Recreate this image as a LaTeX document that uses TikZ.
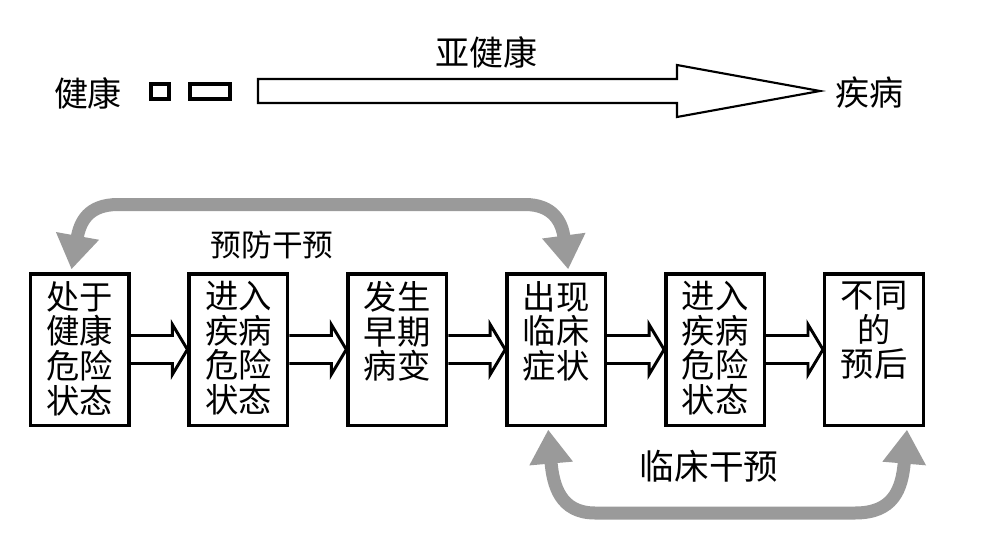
\documentclass[tikz,border=0pt]{standalone}
\usepackage{fontspec}
\newfontfamily\cjk{Noto Sans CJK SC}
\usetikzlibrary{arrows.meta}
\definecolor{arrowgray}{RGB}{154,154,154}
\begin{document}
\begin{tikzpicture}[x=0.75pt,y=-0.75pt,
  stagebox/.style={draw, line width=2.6pt, minimum width=73.9pt, minimum height=113.6pt, inner sep=0pt},
  boxtext/.style={anchor=north, inner sep=0pt, align=center, font=\cjk\fontsize{25pt}{26pt}\selectfont},
  toplabel/.style={inner sep=0pt, font=\cjk\fontsize{25.5pt}{27pt}\selectfont},
  blockarrow/.style={draw, line width=2.2pt, line join=miter},
  feedback/.style={draw=arrowgray, line width=9.75pt,
    {Triangle[length=25.5pt,width=31pt]}-{Triangle[length=25.5pt,width=31pt]}}
]
\useasboundingbox[fill=white] (0,0) rectangle (1001,536);

% top line
\node[toplabel] (healthy) at (88,93) {健康};
\node[toplabel] (disease) at (869,93) {疾病};
\node[toplabel] (subhealth) at (486,52) {亚健康};
\draw[line width=3pt] (151,84) rectangle (169,99);
\draw[line width=3pt] (190,84) rectangle (230,99);
\draw[line width=1.6pt, line join=miter] (258,79) -- (677,79) -- (677,65) -- (820,91) -- (677,117) -- (677,103) -- (258,103) -- cycle;

% stage boxes
\foreach \i/\x in {1/79.5,2/238.4,3/397.3,4/556.2,5/715.1,6/874}{
  \node[stagebox] (b\i) at (\x,349.5) {};
}
\node[boxtext] (t1) at (79.5,281) {处于\\健康\\危险\\状态};
\node[boxtext] (t2) at (238.4,281) {进入\\疾病\\危险\\状态};
\node[boxtext] (t3) at (397.3,281) {发生\\早期\\病变};
\node[boxtext] (t4) at (556.2,281) {出现\\临床\\症状};
\node[boxtext] (t5) at (715.1,281) {进入\\疾病\\危险\\状态};
\node[boxtext] (t6) at (874,281) {不同\\的\\预后};

% block arrows
\foreach \a/\b in {1/2,2/3,3/4,4/5,5/6}{
  \draw[blockarrow] ([yshift=10.5pt]b\a.east) -- ([xshift=-11.25pt,yshift=10.5pt]b\b.west)
    -- ([xshift=-11.25pt,yshift=18.75pt]b\b.west) -- (b\b.west)
    -- ([xshift=-11.25pt,yshift=-18.75pt]b\b.west) -- ([xshift=-11.25pt,yshift=-10.5pt]b\b.west)
    -- ([yshift=-10.5pt]b\a.east);
}

% feedback arrows
\draw[feedback] ([xshift=-6pt,yshift=2pt]b1.north) .. controls (80,222) and (88,204.5) .. (118,204.5)
  -- (525,204.5) .. controls (553,204.5) and (562,222) .. ([xshift=9pt,yshift=2pt]b4.north);
\node[toplabel, font=\cjk\fontsize{23pt}{25pt}\selectfont] (prevent) at (272,245) {预防干预};

\draw[feedback] ([xshift=-6pt,yshift=-2pt]b4.south) .. controls (553,485) and (560,513) .. (595,513)
  -- (855,513) .. controls (893,513) and (902,490) .. ([xshift=24.75pt,yshift=-2pt]b6.south);
\node[toplabel, font=\cjk\fontsize{26pt}{28pt}\selectfont] (clinic) at (709,466) {临床干预};
\end{tikzpicture}
\end{document}
